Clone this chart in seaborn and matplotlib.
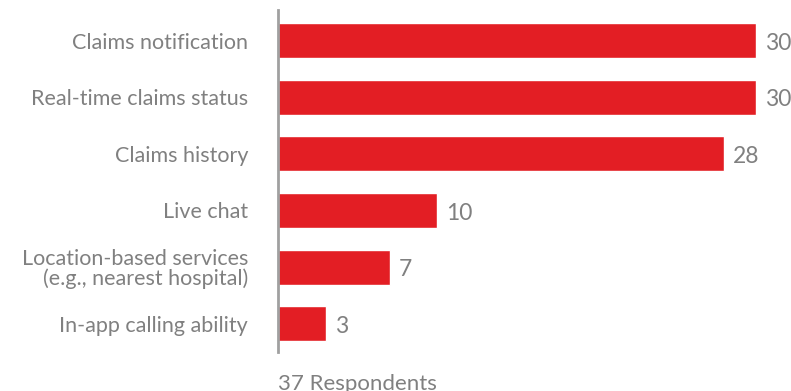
import matplotlib
matplotlib.use("Agg")
import matplotlib.pyplot as plt
import seaborn as sns
import pandas as pd

features = [
    "Claims notification",
    "Real-time claims status",
    "Claims history",
    "Live chat",
    "Location-based services\n(e.g., nearest hospital)",
    "In-app calling ability",
]
respondents = [30, 30, 28, 10, 7, 3]
footnote = "37 Respondents"

df = pd.DataFrame({"feature": features, "count": respondents})

sns.set_theme(style="white")
plt.rcParams["font.family"] = ["Lato", "DejaVu Sans"]

W, H = 791, 391
fig = plt.figure(figsize=(W / 100, H / 100), dpi=100)
ax = fig.add_axes([278 / W, 1 - 352 / H, (756 - 278) / W, (352 - 10) / H])

text_color = "#808080"
sns.barplot(data=df, x="count", y="feature", orient="h", color="#e31e24",
            saturation=1, width=0.62, ax=ax)

ax.set_xlim(0, 30)
ax.set_ylim(5.5, -0.54)
ax.set_xlabel("")
ax.set_ylabel("")
ax.set_xticks([])
for side in ["top", "right", "bottom"]:
    ax.spines[side].set_visible(False)
ax.spines["left"].set_color("#a0a0a0")
ax.spines["left"].set_linewidth(2)
ax.tick_params(axis="y", length=0, pad=21.5, labelsize=15.5, labelcolor=text_color)
for lbl in ax.get_yticklabels():
    lbl.set_horizontalalignment("right")
    lbl.set_linespacing(1.0)

for i, v in enumerate(respondents):
    ax.annotate(str(v), xy=(v, i), xytext=(6.5, -2), textcoords="offset points",
                va="center", ha="left", fontsize=16.5, color=text_color,
                annotation_clip=False)

fig.text(278 / W, 1 - 390 / H, footnote, ha="left", va="baseline",
         fontsize=16, color=text_color)

fig.savefig("out.png", dpi=100, facecolor="white")
